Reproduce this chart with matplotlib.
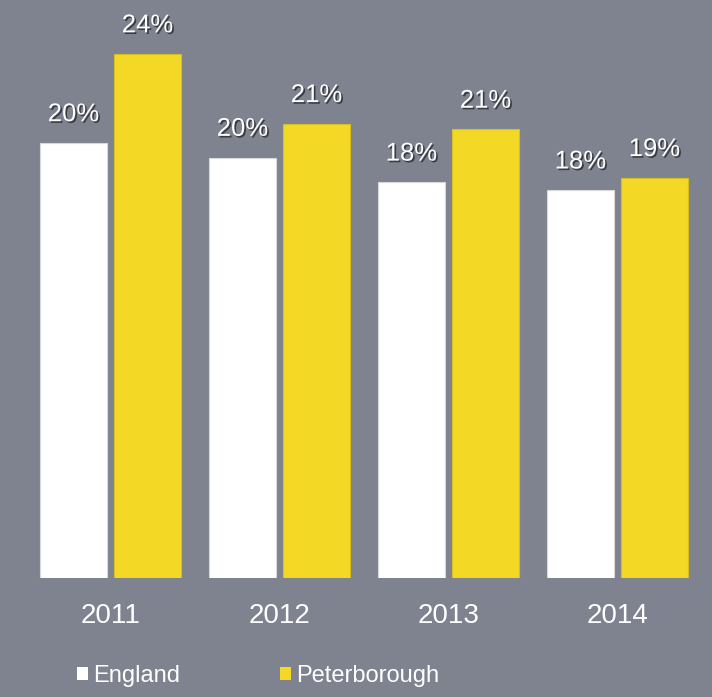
import matplotlib
matplotlib.use("Agg")
import matplotlib.pyplot as plt
import matplotlib.patheffects as pe
from matplotlib.patches import Patch
import numpy as np

years = ["2011", "2012", "2013", "2014"]
england = [20.2, 19.55, 18.45, 18.1]
peterborough = [24.15, 21.05, 20.8, 18.65]

bg = "#7e838f"
yellow = "#f3d826"

plt.rcParams["font.family"] = ["Liberation Sans", "DejaVu Sans"]

fig = plt.figure(figsize=(7.12, 6.97), dpi=100, facecolor=bg)
ax = fig.add_axes([0, 0.1703, 1, 0.8297])
ax.set_facecolor(bg)

x = np.arange(len(years))
w = 0.396
off = 0.219
b1 = ax.bar(x - off, england, w, color="white", edgecolor="#d8d8d8", linewidth=0.8)
b2 = ax.bar(x + off, peterborough, w, color=yellow, edgecolor="#d9bf1c", linewidth=0.8)

ax.set_xlim(-0.654, 3.559)
ax.set_ylim(0.85, 26.55)
ax.axis("off")

shadow = [pe.SimplePatchShadow(offset=(1.2, -1.2), shadow_rgbFace="black", alpha=0.55), pe.Normal()]
for bars, vals in ((b1, england), (b2, peterborough)):
    for r, v in zip(bars, vals):
        ax.annotate(f"{v:.0f}%", (r.get_x() + r.get_width() / 2, v),
                    xytext=(0, 12), textcoords="offset points",
                    ha="center", va="bottom", color="white", fontsize=18.5,
                    path_effects=shadow)

# year labels under each group
for xi, yr in zip(x, years):
    ax.annotate(yr, (xi, 0.85), xytext=(0, -27.5), textcoords="offset points",
                ha="center", va="center", color="white", fontsize=20)

# one legend per entry so each can sit at its own spot
for lab, col, xpx in (("England", "white", 77), ("Peterborough", yellow, 280)):
    fig.legend([Patch(facecolor=col, edgecolor="none")], [lab], loc="center left",
               bbox_to_anchor=(xpx / 712, 1 - 676 / 697), frameon=False,
               handlelength=0.45, handleheight=0.45, handletextpad=0.25,
               borderpad=0, borderaxespad=0,
               labelcolor="white", prop={"size": 17})

fig.savefig("out.png", dpi=100, facecolor=bg)
